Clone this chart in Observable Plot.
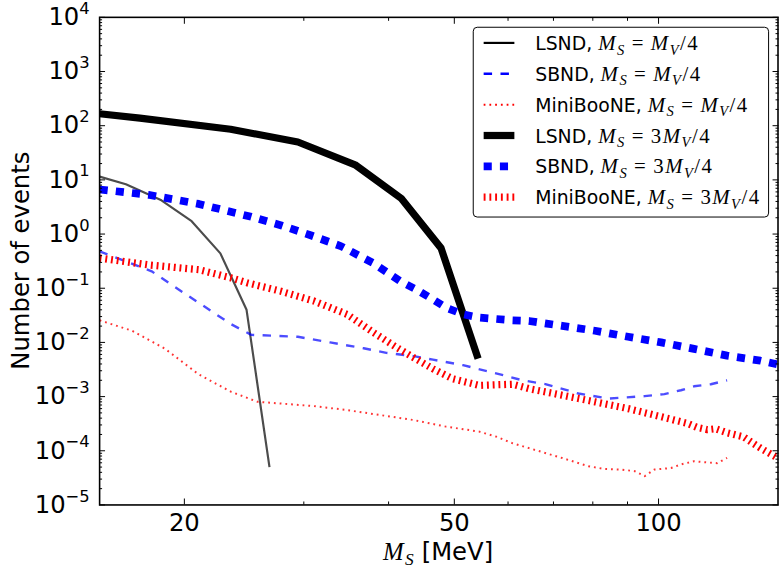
<!DOCTYPE html>
<html>
<head>
<meta charset="utf-8">
<script src="https://cdn.jsdelivr.net/npm/d3@7"></script>
<script src="https://cdn.jsdelivr.net/npm/@observablehq/plot@0.6"></script>
<style>
  html, body { margin: 0; padding: 0; background: #fff; overflow: hidden; }
  #chart { position: relative; width: 779px; height: 576px; overflow: hidden; }
</style>
</head>
<body>
<div id="chart"></div>
<script>
// Expected event counts versus scalar mass M_S (MeV), for two mass ratios.

// LSND, M_S = M_V/4
const lsndThinMass   = [15.0, 16.4, 18.5, 20.5, 22.6, 24.7, 26.7];
const lsndThinEvents = [11.5, 8.3, 4.2, 1.73, 0.44, 0.040, 5.0e-5];

// SBND, M_S = M_V/4
const sbndThinMass   = [15.0, 17.9, 20.05, 23.45, 25.1, 29.4, 32.8, 36.75, 39.7, 43.5, 46.5, 51.5,
                        58.2, 63.0, 68.1, 76.2, 84.3, 95.4, 102, 107.9, 112.8, 119.4, 126.2];
const sbndThinEvents = [0.48, 0.205, 0.079, 0.0216, 0.0138, 0.0127, 0.0100, 0.0078, 0.0064, 0.0056, 0.0048, 0.0038,
                        0.0026, 0.0020, 0.0017, 0.00114, 0.00092, 0.00102, 0.00111, 0.00131, 0.00155, 0.00169, 0.0020];

// MiniBooNE, M_S = M_V/4
const mbThinMass   = [15.0, 16.75, 18.74, 20.97, 23.45, 25.66, 27.76, 31.05, 34.74, 38.9, 43.5, 48.6, 54.4,
                      57.6, 60.9, 64.4, 72.1, 78.8, 83.4, 88.2, 92.2, 95.4, 98.6, 104.3, 107.9, 112.8, 118, 122, 126.2];
const mbThinEvents = [0.0256, 0.0164, 0.0076, 0.0026, 0.00122, 0.00080, 0.000745, 0.000667, 0.000564, 0.000456, 0.00037, 0.000279, 0.000226,
                      0.000183, 0.000138, 0.000112, 7.35e-5, 5.2e-5, 4.6e-5, 4.5e-5, 4.2e-5, 3.4e-5, 4.5e-5, 4.8e-5, 5.6e-5, 6.4e-5, 6.1e-5, 5.9e-5, 7.4e-5];

// LSND, M_S = 3M_V/4
const lsndThickMass   = [15.0, 17.2, 23.4, 29.4, 35.7, 41.8, 47.8, 54.2];
const lsndThickEvents = [166, 138, 86, 50, 19, 4.5, 0.55, 0.005];

// SBND, M_S = 3M_V/4
const sbndThickMass   = [15.0, 17.7, 21.0, 25.1, 27.8, 30.7, 34.0, 38.0, 41.6, 44.0, 46.5, 48.6, 51.5, 54.4,
                         60.9, 64.4, 72.1, 80.6, 90.2, 100.9, 112.8, 126.2, 141.3, 150];
const sbndThickEvents = [6.65, 5.3, 3.6, 2.08, 1.44, 0.95, 0.6, 0.29, 0.135, 0.094, 0.062, 0.044, 0.033, 0.0287,
                         0.0256, 0.0249, 0.0202, 0.0164, 0.0127, 0.0100, 0.0076, 0.0057, 0.0046, 0.0039];

// MiniBooNE, M_S = 3M_V/4
const mbThickMass   = [15.0, 17.7, 21.0, 23.45, 24.8, 27.76, 31.05, 34.74, 38.0, 41.1, 43.5, 46.5, 49.75, 54.4,
                       60.9, 64.4, 72.1, 80.6, 90.2, 100.9, 110.3, 114, 118, 121.4, 126.2, 133.5, 141.3, 146.6, 150];
const mbThickEvents = [0.36, 0.27, 0.22, 0.155, 0.125, 0.088, 0.058, 0.033, 0.0152, 0.0081, 0.0053, 0.00325, 0.00213, 0.00161,
                       0.00169, 0.0014, 0.00106, 0.0008, 0.0006, 0.000425, 0.00032, 0.00027, 0.000245, 0.000255, 0.000215, 0.00018, 0.000112, 8.6e-5, 7.3e-5];

// Axis ticks
const xMajorTicks = [20, 50, 100];
const xMinorTicks = [30, 40, 60, 70, 80, 90];
const yExponents  = [-5, -4, -3, -2, -1, 0, 1, 2, 3, 4];
const yMajorTicks = yExponents.map(e => 10 ** e);
const yMinorTicks = yExponents.slice(0, -1).flatMap(e => [2, 3, 4, 5, 6, 7, 8, 9].map(k => k * 10 ** e));

// Legend labels
const experiments = ["LSND", "SBND", "MiniBooNE"];
const ratios = ["1/4", "3/4"];

// Curve styles (thin = M_V/4, thick = 3M_V/4)
const colors = {LSND: "#000000", SBND: "#0000ff", MiniBooNE: "#ff0000"};
const thinStyle = {
  LSND: {width: 2.2, dash: null, opacity: 0.7},
  SBND: {width: 2.4, dash: "8.5,8.5", opacity: 0.7},
  MiniBooNE: {width: 2.0, dash: "1.8,4", opacity: 0.8}
};
const thickStyle = {
  LSND: {width: 7.3, dash: null, opacity: 1},
  SBND: {width: 7.8, dash: "8.2,8.2", opacity: 1},
  MiniBooNE: {width: 7.3, dash: "1.9,3.9", opacity: 1}
};

const curves = [
  {exp: "LSND", ratio: "1/4", mass: lsndThinMass, events: lsndThinEvents},
  {exp: "SBND", ratio: "1/4", mass: sbndThinMass, events: sbndThinEvents},
  {exp: "MiniBooNE", ratio: "1/4", mass: mbThinMass, events: mbThinEvents},
  {exp: "LSND", ratio: "3/4", mass: lsndThickMass, events: lsndThickEvents},
  {exp: "SBND", ratio: "3/4", mass: sbndThickMass, events: sbndThickEvents},
  {exp: "MiniBooNE", ratio: "3/4", mass: mbThickMass, events: mbThickEvents}
];
const styleOf = c => (c.ratio === "1/4" ? thinStyle : thickStyle)[c.exp];
const rowsOf = c => c.mass.map((m, i) => ({mass: m, events: c.events[i]}));

const tickAxes = (anchorA, anchorB, axis, ticks, size) => [
  axis(ticks, {anchor: anchorA, tickSize: -size, fill: "none", label: null}),
  axis(ticks, {anchor: anchorB, tickSize: -size, fill: "none", label: null})
];

const plot = Plot.plot({
  width: 786,
  height: 576,
  marginLeft: 100,
  marginRight: 1.5,
  marginTop: 17,
  marginBottom: 67,
  style: {fontFamily: "'DejaVu Sans', sans-serif", fontSize: "24.5px", color: "#000", background: "#fff"},
  x: {type: "log", domain: [15, 150]},
  y: {type: "log", domain: [1e-5, 1e4]},
  marks: [
    ...curves.map(c => {
      const s = styleOf(c);
      return Plot.line(rowsOf(c), {
        x: "mass", y: "events",
        stroke: colors[c.exp], strokeWidth: s.width, strokeDasharray: s.dash,
        strokeOpacity: s.opacity, strokeLinecap: "butt", strokeLinejoin: "round",
        clip: true
      });
    }),
    ...tickAxes("left", "right", Plot.axisY, yMinorTicks, 3),
    ...tickAxes("left", "right", Plot.axisY, yMajorTicks, 6),
    ...tickAxes("bottom", "top", Plot.axisX, xMinorTicks, 3),
    ...tickAxes("bottom", "top", Plot.axisX, xMajorTicks, 6),
    Plot.axisY(yMajorTicks, {
      anchor: "left", tickSize: 0, tickPadding: 10, label: null,
      tickFormat: d => `10^${Math.round(Math.log10(d))}`
    }),
    Plot.axisX(xMajorTicks, {
      anchor: "bottom", tickSize: 0, tickPadding: 8.6, label: null,
      tickFormat: d => String(d)
    }),
    Plot.frame({stroke: "#000", strokeWidth: 1.6})
  ]
});

document.getElementById("chart").appendChild(plot);
const svg = d3.select(plot);

// Power-of-ten labels with raised exponents
svg.selectAll('g[aria-label="y-axis tick label"] text').each(function () {
  const exp = this.textContent.split("^")[1].replace("-", "\u2212");
  const t = d3.select(this);
  t.text(null);
  t.append("tspan").text("10");
  t.append("tspan").attr("dy", -11.3).attr("font-size", 16.5).text(exp);
});

const serif = "'Liberation Serif', 'Times New Roman', serif";
const sans = "'DejaVu Sans', sans-serif";

// Writes "M_S = [3]M_V/4" as tspans into a text element
function massRatio(text, ratio, size) {
  const sub = size * 0.7, shift = size * 0.22;
  const it = (s, opts = {}) => text.append("tspan")
    .attr("font-family", serif).attr("font-style", opts.upright ? "normal" : "italic")
    .attr("font-size", opts.sub ? sub : size)
    .attr("dx", opts.dx || 0).attr("dy", opts.dy || 0)
    .attr("letter-spacing", 1.5).text(s);
  it("M", {dx: 6});
  it("S", {sub: true, dy: shift});
  it("=", {upright: true, dx: 6, dy: -shift});
  if (ratio === "3/4") {
    it("3", {upright: true, dx: 6});
    it("M");
  } else {
    it("M", {dx: 6});
  }
  it("V", {sub: true, dy: shift});
  it("/4", {upright: true, dy: -shift});
}

// x-axis title
const xTitle = svg.append("text")
  .attr("x", 442).attr("y", 565).attr("text-anchor", "middle").attr("fill", "#000");
xTitle.append("tspan").attr("font-family", serif).attr("font-style", "italic")
  .attr("font-size", 25).attr("letter-spacing", 1.5).text("M");
xTitle.append("tspan").attr("font-family", serif).attr("font-style", "italic")
  .attr("font-size", 17.5).attr("dy", 5).text("S");
xTitle.append("tspan").attr("font-family", sans).attr("font-size", 24.5)
  .attr("dx", 8).attr("dy", -5).text("[MeV]");

// y-axis title
svg.append("text")
  .attr("transform", "translate(29,263) rotate(-90)")
  .attr("text-anchor", "middle").attr("font-family", sans).attr("font-size", 24.5)
  .attr("fill", "#000").text("Number of events");

// Legend
const legend = svg.append("g").attr("text-anchor", "start");
legend.append("rect")
  .attr("x", 477.5).attr("y", 27.5).attr("width", 298).attr("height", 191.5).attr("rx", 4)
  .attr("fill", "#fff").attr("stroke", "#000").attr("stroke-width", 1);
const legendEntries = ratios.flatMap(r => experiments.map(e => ({exp: e, ratio: r})));
legendEntries.forEach((entry, i) => {
  const y = 43.3 + i * 31.14;
  const s = styleOf(entry);
  legend.append("line")
    .attr("x1", 488).attr("x2", 519).attr("y1", y).attr("y2", y)
    .attr("stroke", colors[entry.exp]).attr("stroke-width", s.width)
    .attr("stroke-dasharray", s.dash).attr("stroke-linecap", "butt");
  const t = legend.append("text").attr("x", 540).attr("y", y + 7.2)
    .attr("text-anchor", "start").attr("fill", "#000");
  t.append("tspan").attr("font-family", sans).attr("font-size", 19).text(entry.exp + ",");
  massRatio(t, entry.ratio, 21);
});
</script>
</body>
</html>
